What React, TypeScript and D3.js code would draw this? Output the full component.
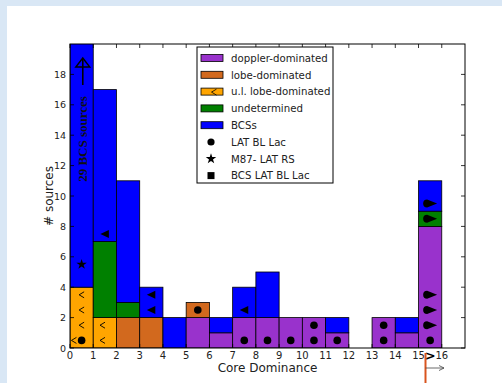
import React from "react";
import * as d3 from "d3";

const binStarts = [0, 1, 2, 3, 4, 5, 6, 7, 8, 9, 10, 11, 12, 13, 14, 15];
const doppler = [0, 0, 0, 0, 0, 2, 1, 2, 2, 2, 2, 1, 0, 2, 1, 8];
const lobe = [0, 0, 2, 2, 0, 1, 0, 0, 0, 0, 0, 0, 0, 0, 0, 0];
const ulLobe = [4, 2, 0, 0, 0, 0, 0, 0, 0, 0, 0, 0, 0, 0, 0, 0];
const undetermined = [0, 5, 1, 0, 0, 0, 0, 0, 0, 0, 0, 0, 0, 0, 0, 1];
const bcs = [25, 10, 8, 2, 2, 0, 1, 2, 3, 0, 0, 1, 0, 0, 1, 2];

const circlePts: [number, number][] = [
  [0.5, 0.5], [5.5, 2.5], [7.5, 0.5], [8.5, 0.5], [9.5, 0.5], [10.5, 0.5],
  [10.5, 1.5], [11.5, 0.5], [13.5, 0.5], [13.5, 1.5], [15.5, 0.5],
];
const starPts: [number, number][] = [[0.5, 5.5]];
const triLeftPts: [number, number][] = [[1.5, 7.5], [3.5, 2.5], [3.5, 3.5], [7.5, 2.5]];
const caretPts: [number, number][] = [
  [0.17, 0.5], [0.5, 1.5], [0.5, 2.5], [0.5, 3.5], [1.4, 0.5], [1.4, 1.5],
];
const dropPts: [number, number][] = [[15.5, 1.5], [15.5, 2.5], [15.5, 3.5], [15.5, 8.5], [15.5, 9.5]];

const xTicks = d3.range(0, 17);
const yTicks = [0, 2, 4, 6, 8, 10, 12, 14, 16, 18];

const seriesNames = ["doppler-dominated", "lobe-dominated", "u.l. lobe-dominated", "undetermined", "BCSs"];
const seriesColors = ["#9932CC", "#D2691E", "#FFA500", "#008000", "#0000FF"];
const markerNames = ["LAT BL Lac", "M87- LAT RS", "BCS LAT BL Lac"];

const W = 502, H = 383;
const x = d3.scaleLinear().domain([0, 17]).range([70, 465]);
const y = d3.scaleLinear().domain([0, 20]).range([348, 44]);

const font = "DejaVu Sans, sans-serif";

export default function App() {
  const series = [doppler, lobe, ulLobe, undetermined, bcs];
  const rects: JSX.Element[] = [];
  binStarts.forEach((b, i) => {
    let base = 0;
    series.forEach((s, k) => {
      const v = s[i];
      if (v > 0) {
        rects.push(
          <rect key={`r${i}-${k}`} x={x(b)} y={y(base + v)} width={x(b + 1) - x(b)}
            height={y(base) - y(base + v)} fill={seriesColors[k]} stroke="#000" strokeWidth={0.8} />
        );
      }
      base += v;
    });
  });

  const star = d3.symbol().type(d3.symbolStar).size(34)();
  const tri = (cx: number, cy: number) => `M${cx - 4.5},${cy}L${cx + 4},${cy - 4}L${cx + 4},${cy + 4}Z`;
  const caret = (cx: number, cy: number) => `M${cx + 2.5},${cy - 3}L${cx - 2.5},${cy}L${cx + 2.5},${cy + 3}`;
  const drop = (cx: number, cy: number) =>
    `M${cx - 3},${cy - 4}A4,4 0 0 0 ${cx - 3},${cy + 4}L${cx + 7},${cy}Z`;

  const legX = 197, legY = 47, legW = 136, legH = 136;
  const rowY = (i: number) => 58 + i * 16.8;

  return (
    <svg width={W} height={H} style={{ position: "absolute", left: 0, top: 0 }}>
      <defs>
        <clipPath id="plotclip">
          <rect x={x(0)} y={y(20)} width={x(17) - x(0)} height={y(0) - y(20)} />
        </clipPath>
      </defs>
      <rect x={0} y={0} width={W} height={H} fill="#d9e7f5" />
      <rect x={7} y={6} width={W - 7} height={H - 6} fill="#ffffff" />
      <g clipPath="url(#plotclip)">{rects}</g>

      {circlePts.map(([a, b], i) => (
        <circle key={`c${i}`} cx={x(a)} cy={y(b)} r={3.8} fill="#000" />
      ))}
      {starPts.map(([a, b], i) => (
        <path key={`s${i}`} d={star} transform={`translate(${x(a)},${y(b)})`} fill="#000" />
      ))}
      {triLeftPts.map(([a, b], i) => (
        <path key={`t${i}`} d={tri(x(a), y(b))} fill="#000" />
      ))}
      {caretPts.map(([a, b], i) => (
        <path key={`k${i}`} d={caret(x(a), y(b))} fill="none" stroke="#000" strokeWidth={0.9} />
      ))}
      {dropPts.map(([a, b], i) => (
        <path key={`d${i}`} d={drop(x(a), y(b))} fill="#000" />
      ))}

      {/* 29 BCS sources annotation */}
      <line x1={x(0.55)} y1={85} x2={x(0.55)} y2={59} stroke="#000" strokeWidth={1.6} />
      <path d={`M${x(0.55)},58L${x(0.55) - 7},67L${x(0.55) + 7},67Z`} fill="none" stroke="#000" strokeWidth={1.4} />
      <text transform={`translate(${x(0.55) + 4.5},139) rotate(-90)`} textAnchor="middle"
        fontFamily="Liberation Serif, serif" fontWeight="bold" fontSize={13} fill="#111">29 BCS sources</text>

      {/* frame */}
      <rect x={x(0)} y={y(20)} width={x(17) - x(0)} height={y(0) - y(20)} fill="none" stroke="#000" strokeWidth={1} />
      {xTicks.map((t) => (
        <g key={`xt${t}`}>
          <line x1={x(t)} x2={x(t)} y1={y(0)} y2={y(0) - 4} stroke="#000" strokeWidth={0.8} />
          <line x1={x(t)} x2={x(t)} y1={y(20)} y2={y(20) + 4} stroke="#000" strokeWidth={0.8} />
          <text x={x(t)} y={359} textAnchor="middle" fontFamily={font} fontSize={10} fill="#222">{t}</text>
        </g>
      ))}
      {yTicks.map((t) => (
        <g key={`yt${t}`}>
          <line x1={x(0)} x2={x(0) + 4} y1={y(t)} y2={y(t)} stroke="#000" strokeWidth={0.8} />
          <line x1={x(17)} x2={x(17) - 4} y1={y(t)} y2={y(t)} stroke="#000" strokeWidth={0.8} />
          <text x={66} y={y(t) + 3.5} textAnchor="end" fontFamily={font} fontSize={9.5} fill="#222">{t}</text>
        </g>
      ))}

      <text x={(x(0) + x(17)) / 2} y={372} textAnchor="middle" fontFamily={font} fontSize={12} fill="#222">Core Dominance</text>
      <text transform={`translate(53,${(y(0) + y(20)) / 2}) rotate(-90)`} textAnchor="middle" fontFamily={font} fontSize={12} fill="#222"># sources</text>

      {/* >15 marks */}
      <text x={x(15.5)} y={360} textAnchor="middle" fontFamily={font} fontWeight="bold" fontSize={13} fill="#000">&gt;</text>
      <line x1={x(15.3)} x2={x(15.3)} y1={353} y2={383} stroke="#d9541e" strokeWidth={2} />
      <line x1={x(15.3)} x2={444} y1={368} y2={368} stroke="#444" strokeWidth={0.8} />
      <path d={`M439,365.5L444,368L439,370.5`} fill="none" stroke="#444" strokeWidth={0.8} />

      {/* legend */}
      <rect x={legX} y={legY} width={legW} height={legH} fill="#fff" stroke="#000" strokeWidth={1} />
      {seriesNames.map((n, i) => (
        <g key={`l${i}`}>
          <rect x={201} y={rowY(i) - 3.5} width={22} height={7} fill={seriesColors[i]} stroke="#000" strokeWidth={0.8} />
          {i === 2 && <path d={caret(214, rowY(i) + 0.5)} fill="none" stroke="#000" strokeWidth={0.8} />}
          <text x={231} y={rowY(i) + 3.8} fontFamily={font} fontSize={10.2} fill="#222">{n}</text>
        </g>
      ))}
      {markerNames.map((n, j) => {
        const i = j + 5;
        const cy = rowY(i);
        return (
          <g key={`m${j}`}>
            {j === 0 && <circle cx={211} cy={cy} r={3.6} fill="#000" />}
            {j === 1 && <path d={star} transform={`translate(211,${cy})`} fill="#000" />}
            {j === 2 && <rect x={207.5} y={cy - 3.5} width={7} height={7} fill="#000" />}
            <text x={231} y={cy + 3.8} fontFamily={font} fontSize={10.2} fill="#222">{n}</text>
          </g>
        );
      })}
    </svg>
  );
}
